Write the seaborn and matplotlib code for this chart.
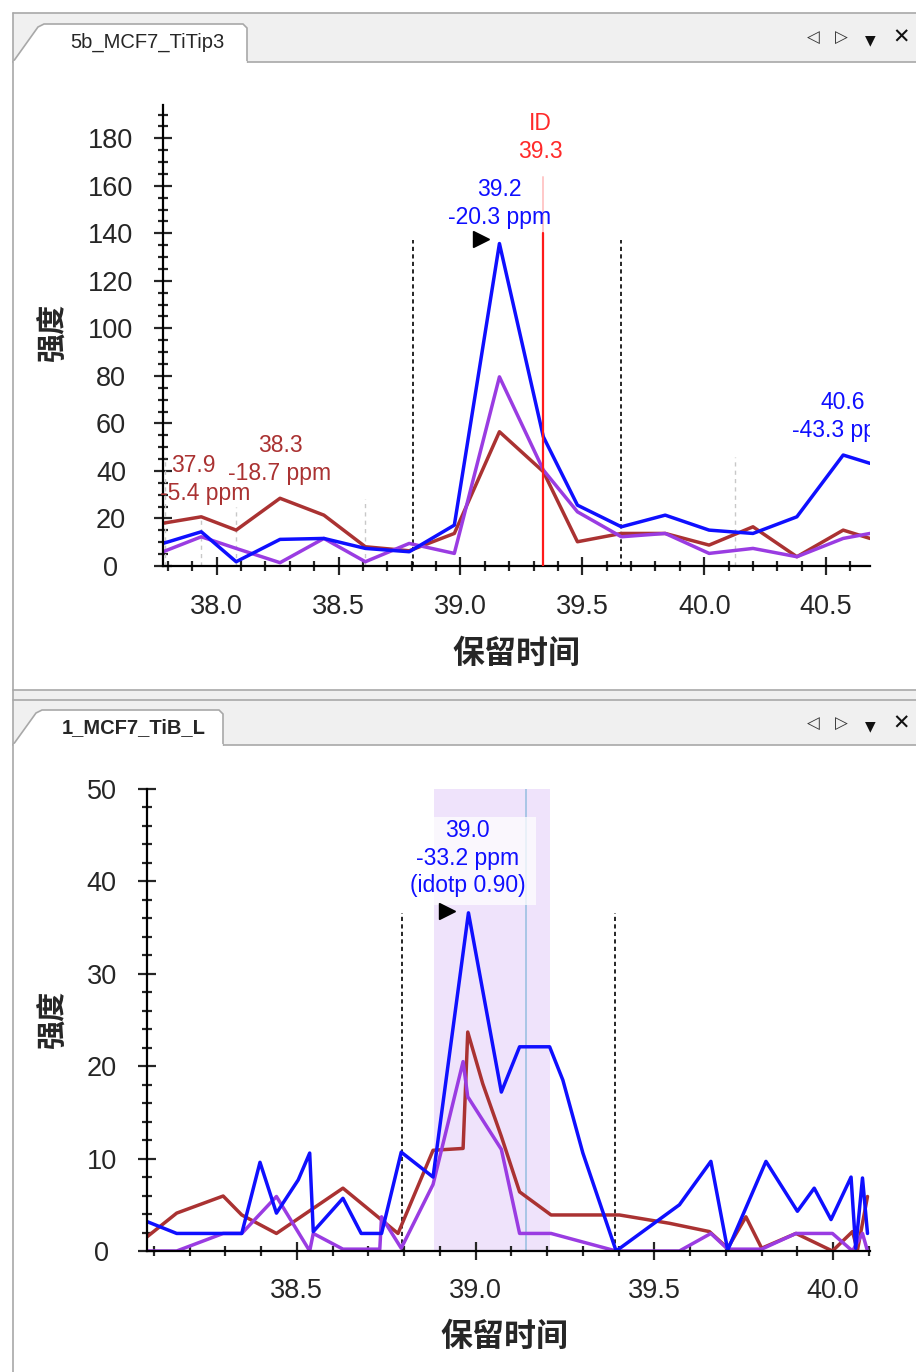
import matplotlib
matplotlib.use("Agg")
import matplotlib.pyplot as plt
import seaborn as sns
from matplotlib.patches import Rectangle, Polygon
from matplotlib.lines import Line2D
from matplotlib.ticker import MultipleLocator, FormatStrFormatter

# top panel: 5b_MCF7_TiTip3
top_rt = [37.78, 37.937, 38.08, 38.26, 38.44, 38.61, 38.79, 38.975, 39.16,
          39.34, 39.48, 39.66, 39.84, 40.02, 40.20, 40.38, 40.57, 40.68]
top_blue = [9.5, 14.4, 1.8, 11.2, 11.6, 7.4, 6.0, 17.2, 135.7,
            54.4, 25.6, 16.5, 21.4, 15.1, 13.7, 20.7, 46.7, 43.2]
top_purple = [6.0, 12.3, 7.4, 1.4, 11.6, 1.8, 9.5, 5.3, 79.6,
              40.4, 22.8, 12.3, 13.7, 5.3, 7.4, 3.9, 11.6, 13.7]
top_brown = [18.0, 20.7, 15.1, 28.5, 21.4, 8.1, 6.4, 13.7, 56.5,
             39.7, 10.2, 13.7, 13.7, 8.8, 16.5, 3.9, 15.1, 11.6]

# bottom panel: 1_MCF7_TiB_L
bot_blue_rt = [38.08, 38.164, 38.346, 38.397, 38.443, 38.504, 38.536, 38.546, 38.629,
               38.68, 38.737, 38.792, 38.881, 38.98, 39.072, 39.123, 39.207, 39.244,
               39.30, 39.393, 39.57, 39.658, 39.705, 39.812, 39.90, 39.947, 39.994,
               40.05, 40.063, 40.082, 40.096]
bot_blue = [3.2, 1.9, 1.9, 9.6, 4.1, 7.7, 10.6, 2.1, 5.7,
            1.9, 1.9, 10.7, 8.0, 36.6, 17.2, 22.1, 22.1, 18.5,
            10.6, 0.0, 5.0, 9.7, 0.1, 9.7, 4.3, 6.8, 3.4,
            8.0, 0.3, 7.9, 1.9]
bot_brown_rt = [38.08, 38.164, 38.294, 38.346, 38.443, 38.629, 38.783, 38.881, 38.965,
                38.978, 39.02, 39.072, 39.123, 39.211, 39.402, 39.542, 39.654, 39.705,
                39.756, 39.80, 39.896, 39.998, 40.054, 40.068, 40.096]
bot_brown = [1.5, 4.1, 5.95, 3.9, 1.9, 6.8, 1.9, 10.9, 11.1,
             23.7, 18.1, 12.4, 6.4, 3.9, 3.9, 3.0, 2.1, 0.3,
             3.7, 0.3, 1.9, 0.0, 2.1, 0.1, 5.9]
bot_purple_rt = [38.08, 38.164, 38.294, 38.346, 38.443, 38.536, 38.546, 38.629, 38.732,
                 38.737, 38.792, 38.881, 38.965, 38.978, 39.072, 39.123, 39.211, 39.393,
                 39.57, 39.658, 39.705, 39.80, 39.896, 39.998, 40.054, 40.082, 40.096]
bot_purple = [0.0, 0.0, 1.9, 1.9, 5.9, 0.0, 1.9, 0.2, 0.2,
              3.7, 0.3, 7.2, 20.5, 16.7, 11.0, 1.9, 1.9, 0.0,
              0.0, 1.9, 0.2, 0.2, 1.9, 1.9, 0.0, 1.9, 0.0]

BLUE = "#0f0fff"
PURPLE = "#9a3ce2"
BROWN = "#aa3232"

sns.set_style("ticks")
plt.rcParams['font.family'] = ['Liberation Sans', 'Noto Sans CJK SC', 'DejaVu Sans']

W, H = 916, 1372
fig = plt.figure(figsize=(W / 100, H / 100), dpi=100)
fig.patch.set_facecolor("white")


def fx(x):
    return x / W


def fy(y):
    return 1 - y / H


def rect(x0, y0, x1, y1, fc, ec="none", lw=0):
    fig.add_artist(Rectangle((fx(x0), fy(y1)), fx(x1) - fx(x0), fy(y0) - fy(y1),
                             transform=fig.transFigure, fc=fc, ec=ec, lw=lw))


def hline(x0, x1, y, c="#a8a8a8", lw=1.2):
    fig.add_artist(Line2D([fx(x0), fx(x1)], [fy(y), fy(y)], transform=fig.transFigure, color=c, lw=lw))


def tab(pts):
    fig.add_artist(Polygon([(fx(a), fy(b)) for a, b in pts], closed=True,
                           transform=fig.transFigure, fc="white", ec="#a8a8a8", lw=1.2))


# window chrome
rect(13, 13, 916, 62, "#f0f0f0")
hline(13, 916, 13)
hline(13, 916, 62)
tab([(13, 62), (38, 27), (44, 24), (243, 24), (247, 28), (247, 62)])
fig.add_artist(Line2D([fx(14), fx(246)], [fy(62), fy(62)], transform=fig.transFigure, color="white", lw=1.6))
fig.text(fx(147), fy(42), "5b_MCF7_TiTip3", ha="center", va="center", fontsize=14.5)

rect(13, 690, 916, 745, "#f0f0f0")
hline(13, 916, 690)
hline(13, 916, 700)
hline(13, 916, 745)
tab([(13, 745), (36, 713), (42, 710), (219, 710), (223, 714), (223, 745)])
fig.add_artist(Line2D([fx(14), fx(222)], [fy(745), fy(745)], transform=fig.transFigure, color="white", lw=1.6))
fig.text(fx(134), fy(728), "1_MCF7_TiB_L", ha="center", va="center", fontsize=14.5, weight="bold")

fig.add_artist(Line2D([fx(13), fx(13)], [fy(13), fy(1372)], transform=fig.transFigure, color="#a8a8a8", lw=1.2))

for yy in (38, 724):
    fig.text(fx(813), fy(yy), "◁", ha="center", va="center", fontsize=12, family="DejaVu Sans", color="#333333")
    fig.text(fx(841), fy(yy), "▷", ha="center", va="center", fontsize=12, family="DejaVu Sans", color="#333333")
    fig.text(fx(870), fy(yy + 2), "▼", ha="center", va="center", fontsize=10, family="DejaVu Sans", color="#111111")
    fig.text(fx(901), fy(yy), "✕", ha="center", va="center", fontsize=15, family="DejaVu Sans", color="#111111")

ax1 = fig.add_axes([fx(163), fy(566), (870 - 163) / W, (566 - 105) / H])
ax2 = fig.add_axes([fx(147), fy(1251), (870 - 147) / W, (1251 - 789) / H])


def style(ax, xpad, ypad):
    for s in ("top", "right"):
        ax.spines[s].set_visible(False)
    for s in ("left", "bottom"):
        ax.spines[s].set_linewidth(1.6)
        ax.spines[s].set_color("black")
    ax.tick_params(which="major", direction="inout", length=13, width=1.6, labelsize=19.5)
    ax.tick_params(which="minor", direction="inout", length=7, width=1.6)
    ax.tick_params(axis="x", which="major", pad=xpad)
    ax.tick_params(axis="y", which="major", pad=ypad)
    ax.xaxis.set_major_formatter(FormatStrFormatter("%.1f"))
    ax.yaxis.set_major_formatter(FormatStrFormatter("%d"))
    ax.set_facecolor("white")


# ---- top panel ----
ax = ax1
for x, c in [(37.79, 46), (37.934, 20), (38.078, 25), (38.61, 28), (40.127, 46)]:
    ax.plot([x, x], [0, c], ls=(0, (3, 3)), color="#c8c8c8", lw=1.0)
for x in (38.807, 39.66):
    ax.plot([x, x], [0, 137], ls=(0, (2.5, 2)), color="black", lw=1.2)
ax.plot([39.34, 39.34], [0, 140], color="#ff1a1a", lw=1.6, zorder=4)
ax.plot([39.34, 39.34], [140, 163.5], color="#ffc8c8", lw=1.4, zorder=1)

sns.lineplot(x=top_rt, y=top_brown, ax=ax, color=BROWN, lw=2.5, estimator=None)
sns.lineplot(x=top_rt, y=top_purple, ax=ax, color=PURPLE, lw=2.5, estimator=None)
sns.lineplot(x=top_rt, y=top_blue, ax=ax, color=BLUE, lw=2.5, estimator=None)

ax.set_xlim(37.78, 40.68)
ax.set_ylim(0, 194)
ax.xaxis.set_major_locator(MultipleLocator(0.5))
ax.xaxis.set_minor_locator(MultipleLocator(0.1))
ax.yaxis.set_major_locator(MultipleLocator(20))
ax.yaxis.set_minor_locator(MultipleLocator(5))
style(ax, 14, 31)
ax.set_yticks(range(0, 181, 20))
plt.setp(ax.get_yticklabels(), ha="center")

tk = dict(ha="center", va="center", fontsize=16.5)
ax.text(39.328, 186.3, "ID", color="#ff2a2a", **tk)
ax.text(39.328, 174.5, "39.3", color="#ff2a2a", **tk)
ax.text(39.16, 158.5, "39.2", color=BLUE, **tk)
ax.text(39.16, 146.8, "-20.3 ppm", color=BLUE, **tk)
ax.plot([39.085], [137.5], marker=">", color="black", ms=12, clip_on=False)
ax.text(38.26, 50.9, "38.3", color=BROWN, **tk)
ax.text(38.26, 39.1, "-18.7 ppm", color=BROWN, **tk)
ax.text(37.905, 42.2, "37.9", color=BROWN, **tk)
ax.text(37.955, 30.7, "-5.4 ppm", color=BROWN, **tk)
ax.text(40.57, 69.0, "40.6", color=BLUE, clip_on=True, **tk)
ax.text(40.57, 57.2, "-43.3 ppm", color=BLUE, clip_on=True, **tk)

ax.set_ylabel("强度", fontsize=21, weight="bold", family=['Noto Sans CJK SC', 'DejaVu Sans'])
ax.set_xlabel("保留时间", fontsize=23, weight="bold", family=['Noto Sans CJK SC', 'DejaVu Sans'])
ax.yaxis.set_label_coords(-0.135, 0.505)
ax.xaxis.set_label_coords(0.50, -0.156)

# ---- bottom panel ----
ax = ax2
ax.axvspan(38.885, 39.207, color="#efe3fb", lw=0, zorder=0)
ax.plot([39.14, 39.14], [0, 50], color="#a9c6e6", lw=1.4, zorder=1)
for x in (38.793, 39.391):
    ax.plot([x, x], [0, 36.6], ls=(0, (2.5, 2)), color="black", lw=1.2)

sns.lineplot(x=bot_brown_rt, y=bot_brown, ax=ax, color=BROWN, lw=2.5, estimator=None)
sns.lineplot(x=bot_purple_rt, y=bot_purple, ax=ax, color=PURPLE, lw=2.5, estimator=None)
sns.lineplot(x=bot_blue_rt, y=bot_blue, ax=ax, color=BLUE, lw=2.5, estimator=None)

ax.add_patch(Rectangle((38.788, 37.4), 39.17 - 38.788, 47.0 - 37.4, fc="white", alpha=0.75, lw=0, zorder=5))
ax.text(38.978, 45.5, "39.0", color=BLUE, zorder=6, **tk)
ax.text(38.978, 42.5, "-33.2 ppm", color=BLUE, zorder=6, **tk)
ax.text(38.978, 39.6, "(idotp 0.90)", color=BLUE, zorder=6, **tk)
ax.plot([38.92], [36.8], marker=">", color="black", ms=12, zorder=6)

ax.set_xlim(38.081, 40.103)
ax.set_ylim(0, 50)
ax.xaxis.set_major_locator(MultipleLocator(0.5))
ax.xaxis.set_minor_locator(MultipleLocator(0.1))
ax.yaxis.set_major_locator(MultipleLocator(10))
ax.yaxis.set_minor_locator(MultipleLocator(2))
style(ax, 13, 26)
plt.setp(ax.get_yticklabels(), ha="center")

ax.set_ylabel("强度", fontsize=21, weight="bold", family=['Noto Sans CJK SC', 'DejaVu Sans'])
ax.set_xlabel("保留时间", fontsize=23, weight="bold", family=['Noto Sans CJK SC', 'DejaVu Sans'])
ax.yaxis.set_label_coords(-0.11, 0.5)
ax.xaxis.set_label_coords(0.495, -0.152)

fig.savefig("out.png", dpi=100)
